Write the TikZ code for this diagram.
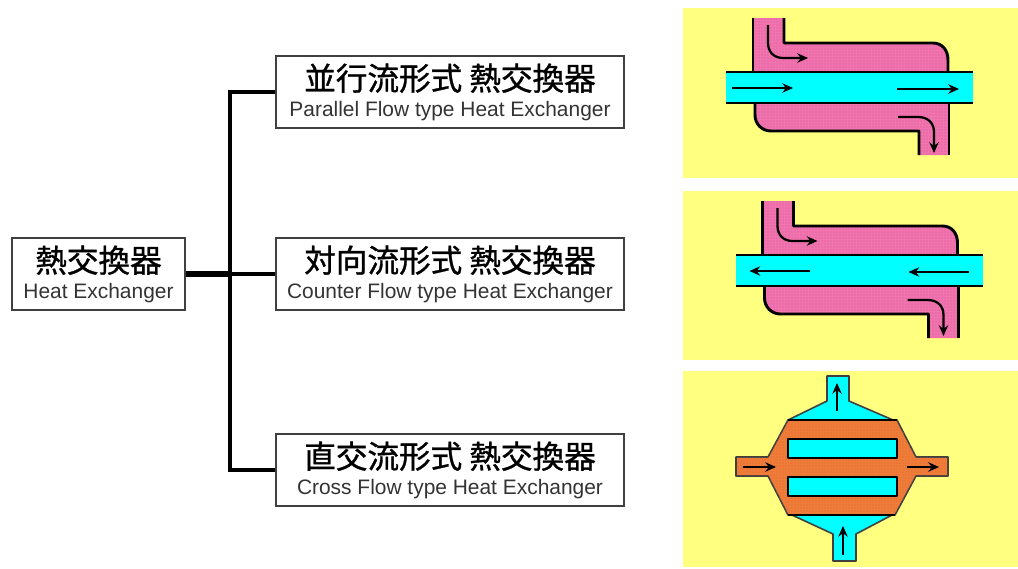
\documentclass[tikz,border=0pt]{standalone}
\usepackage{fontspec}
\setmainfont{Liberation Sans}
\newfontfamily\cjk[AutoFakeBold=1.0]{Noto Sans CJK JP}
\usetikzlibrary{arrows.meta,patterns.meta}
\definecolor{panelyel}{HTML}{FFFF80}
\definecolor{shellpink}{HTML}{F074AE}
\definecolor{dotpink}{HTML}{E0559A}
\definecolor{tubecyan}{HTML}{00FFFF}
\definecolor{shellorange}{HTML}{F07C3A}
\definecolor{dotorange}{HTML}{DE6A2E}
\definecolor{txtgray}{HTML}{333333}
\tikzset{
  panelbox/.style={fill=panelyel,draw=none},
  flowarrow/.style={line width=1.7pt,-{Stealth[length=8pt,width=7pt]}},
  wall/.style={line width=2.2pt,line join=round},
  thinwall/.style={line width=1.2pt,draw=black!75,line join=round},
  labelbox/.style={draw=black!75,line width=1pt,fill=white,inner sep=0pt,align=center,minimum height=54pt},
  widebox/.style={labelbox,minimum width=261pt},
  bus/.style={line width=3.6pt,line join=miter},
  rootbus/.style={line width=4.8pt},
  pinkdots/.style={pattern={Dots[distance=2.25pt,radius=0.4pt]},pattern color=dotpink},
  orangedots/.style={pattern={Dots[distance=2.25pt,radius=0.4pt]},pattern color=dotorange},
}
\newcommand{\jp}[1]{{\cjk\bfseries\fontsize{23.7}{24}\selectfont #1}}
\newcommand{\en}[1]{{\color{txtgray}\fontsize{15.7}{18}\selectfont #1}}
\newcommand{\shellpath}{(753,18) -- (784,18) -- (784,43) -- (933,43)
    .. controls (942,43) and (948,50) .. (948,60) -- (948,105) -- (949,155) -- (919,155) -- (919,131)
    -- (771,131) .. controls (762,131) and (755,124) .. (755,115) -- (753,72) -- cycle}
\newcommand{\shellbody}{%
  \fill[shellpink] \shellpath;
  \fill[pinkdots] \shellpath;
  \draw[wall] (753,18) -- (753,72);
  \draw[wall] (784,18) -- (784,43) -- (933,43)
    .. controls (942,43) and (948,50) .. (948,60) -- (948,72);
  \draw[wall] (755,103) -- (755,115) .. controls (755,124) and (762,131) .. (771,131) -- (919,131) -- (919,155);
  \draw[wall] (949,103) -- (949,155);
  \fill[tubecyan] (726,72) rectangle (973,103);
  \draw[wall] (726,72) -- (973,72);
  \draw[wall] (726,103) -- (973,103);
  \draw[flowarrow] (768,25) -- (768,43) .. controls (768,52) and (774,58) .. (783,58) -- (808,58);
  \draw[flowarrow] (898,117) -- (918,117) .. controls (928,117) and (934,123) .. (934,132) -- (934,153);
}
\begin{document}
\begin{tikzpicture}[x=0.75pt,y=-0.75pt]
\useasboundingbox (0,0) rectangle (1018,568);
% panels
\fill[panelbox] (683,8) rectangle (1018,178);
\fill[panelbox] (683,191) rectangle (1018,360);
\fill[panelbox] (683,371) rectangle (1018,567);
% parallel flow
\shellbody
\draw[flowarrow] (732,88) -- (793,88);
\draw[flowarrow] (897,89) -- (959,89);
% counter flow
\begin{scope}[shift={(9.5,183)}]
\shellbody
\draw[flowarrow] (800,88) -- (740,88);
\draw[flowarrow] (959,89) -- (899,89);
\end{scope}
% cross flow
\draw[thinwall,fill=tubecyan] (827,376) -- (849,376) -- (849,401) -- (893,420) -- (788,420) -- (827,401) -- cycle;
\draw[thinwall,fill=tubecyan] (833,561) -- (856,561) -- (856,534) -- (892,515) -- (792,515) -- (833,534) -- cycle;
\draw[thinwall,fill=shellorange] (788,420) -- (897,420) -- (916,457) -- (948,457) -- (948,476) -- (916,476)
  -- (895,515) -- (788,515) -- (768,476) -- (736,476) -- (736,457) -- (768,457) -- cycle;
\fill[orangedots] (788,420) -- (897,420) -- (916,457) -- (948,457) -- (948,476) -- (916,476)
  -- (895,515) -- (788,515) -- (768,476) -- (736,476) -- (736,457) -- (768,457) -- cycle;
\draw[line width=2.2pt] (788,420) -- (897,420);
\draw[line width=2.2pt] (788,515) -- (895,515);
\draw[wall,fill=tubecyan] (788,439) rectangle (897,458);
\draw[wall,fill=tubecyan] (788,477) rectangle (897,496);
\draw[flowarrow] (837,411) -- (837,383);
\draw[flowarrow] (843,555) -- (843,526);
\draw[flowarrow] (743,467) -- (776,467);
\draw[flowarrow] (907,467) -- (939,467);
% label boxes
\node[labelbox,minimum width=129.75pt] (root) at (98.5,274) {\jp{熱交換器}\\[5pt]\en{Heat Exchanger}};
\node[widebox] (parallel) at (450,92) {\jp{並行流形式 熱交換器}\\[5pt]\en{Parallel Flow type Heat Exchanger}};
\node[widebox] (counter) at (450,274) {\jp{対向流形式 熱交換器}\\[5pt]\en{Counter Flow type Heat Exchanger}};
\node[widebox] (cross) at (450,470) {\jp{直交流形式 熱交換器}\\[5pt]\en{Cross Flow type Heat Exchanger}};
% connectors
\coordinate (bustop) at (230,92);
\coordinate (busbot) at (230,470);
\coordinate (busmid) at (230,274);
\draw[bus] (parallel.west) -- (bustop) -- (busbot) -- (cross.west);
\draw[rootbus] (root.east) -- (busmid);
\draw[bus] (busmid) -- (counter.west);
\end{tikzpicture}
\end{document}
